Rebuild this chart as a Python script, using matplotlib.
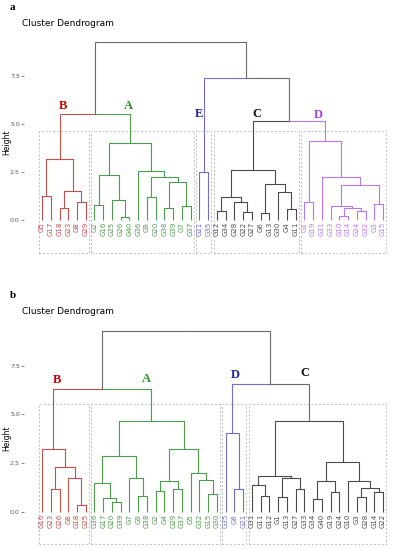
import matplotlib
matplotlib.use("Agg")
import matplotlib.pyplot as plt
from matplotlib.patches import Rectangle

# each node is (left, right, merge height); leaves are label strings

# panel a clusters
a_B = (("G5", "G17", 1.24), (("G18", "G23", 0.61), ("G8", "G29", 0.90), 1.47), 3.15)
a_A = ((("G2", "G16", 0.74), ("G25", ("G26", "G40", 0.12), 1.00), 2.32),
       ("G36", (("G9", "G20", 1.17), (("G38", "G39", 0.58), ("G7", "G37", 0.72), 1.94), 2.23), 2.54),
       3.97)
a_E = ("G21", "G35", 2.49)
a_C = ((("G12", "G34", 0.43), ("G28", ("G22", "G27", 0.41), 0.93), 1.16),
       (("G6", "G13", 0.35), ("G30", ("G4", "G11", 0.56), 1.45), 1.83),
       2.58)
a_D = (("G1", "G19", 0.93),
       ("G31", (("G33", (("G10", "G14", 0.18), ("G24", "G32", 0.46), 0.58), 0.70),
                ("G3", "G15", 0.81), 1.80), 2.20),
       4.10)
a_merge_BA = 5.48
a_merge_CD = 5.13
a_merge_E = 7.37
a_merge_top = 9.27

# panel b clusters
b_B = ("G16", (("G23", "G26", 1.15), ("G8", ("G18", "G25", 0.33), 1.71), 2.28), 3.20)
b_A = ((("G36", ("G17", ("G20", "G39", 0.51), 0.69), 1.46), ("G7", ("G9", "G38", 0.81), 1.73), 2.86),
       ((("G2", "G4", 1.06), ("G29", "G37", 1.15), 1.56), ("G5", ("G32", ("G15", "G30", 0.89), 1.63), 1.97), 3.22),
       4.67)
b_D = ("G35", ("G6", "G21", 1.15), 4.03)
b_C = ((("G31", ("G11", "G12", 0.82), 1.39), (("G1", "G13", 0.77), ("G27", "G33", 1.15), 1.71), 1.85),
       ((("G34", "G40", 0.65), ("G19", "G24", 1.03), 1.58),
        ("G10", (("G3", "G28", 0.74), ("G14", "G22", 1.00), 1.22), 1.59), 2.57),
       4.66)
b_merge_BA = 6.32
b_merge_DC = 6.57
b_merge_top = 9.30

RED = "#C0504D"
GREEN = "#4E9A4E"
BLUE = "#6F6FC8"
DARK = "#4A4A4A"
VIOLET = "#B877EC"
TOPGRAY = "#6A6A6A"

LETTER_COL = {"B": "#C00000", "A": "#2E8B2E", "E": "#1F1F8F", "D2": "#1F1F8F",
              "C": "#111111", "D": "#9A40E0"}

FIG_W, FIG_H = 395, 550


def leaves(node):
    if isinstance(node, str):
        return [node]
    return leaves(node[0]) + leaves(node[1])


def draw(ax, node, pos, color):
    # returns (x, height) of node, draws its subtree
    if isinstance(node, str):
        return pos[node], 0.0
    xl, hl = draw(ax, node[0], pos, color)
    xr, hr = draw(ax, node[1], pos, color)
    h = node[2]
    ax.plot([xl, xl, xr, xr], [hl, h, h, hr], color=color, lw=0.8, solid_capstyle="butt")
    return (xl + xr) / 2, h


def join(ax, left, right, h, colors):
    # left/right are (x, h) tuples; colors for each half
    (xl, hl), (xr, hr) = left, right
    xm = (xl + xr) / 2
    ax.plot([xl, xl, xm], [hl, h, h], color=colors[0], lw=0.8)
    ax.plot([xm, xr, xr], [h, h, hr], color=colors[1], lw=0.8)
    return xm, h


def setup_axes(fig, top_px, bot_px, h_top, h_bot):
    ax = fig.add_axes([24 / FIG_W, 1 - bot_px / FIG_H, 369 / FIG_W, (bot_px - top_px) / FIG_H])
    ax.set_xlim(-1.06, 41.14)
    ax.set_ylim(h_bot, h_top)
    for s in ax.spines.values():
        s.set_visible(False)
    ax.set_xticks([])
    ax.set_yticks([0, 2.5, 5.0, 7.5])
    ax.set_yticklabels(["0.0", "2.5", "5.0", "7.5"])
    ax.tick_params(axis="y", length=2, width=0.5, color="#555555", labelsize=4.5,
                   labelcolor="#555555", pad=1)
    return ax


def cluster_block(ax, tree, pos, col, lab_col, rect_top, rect_bot):
    labs = leaves(tree)
    root = draw(ax, tree, pos, col)
    for lab in labs:
        ax.text(pos[lab], -0.12, lab, rotation=90, ha="center", va="top",
                fontsize=5, color=lab_col)
    x0 = pos[labs[0]] - 0.38
    x1 = pos[labs[-1]] + 0.38
    ax.add_patch(Rectangle((x0, rect_bot), x1 - x0, rect_top - rect_bot, fill=False,
                           edgecolor="#BDBDBD", lw=0.7, linestyle=(0, (2, 2))))
    return root


def letter(ax, x, y, s, c):
    ax.text(x, y, s, fontsize=9, fontweight="bold", family="Liberation Serif",
            color=c, ha="center", va="bottom")


fig = plt.figure(figsize=(FIG_W / 100, FIG_H / 100), dpi=100)

# ---- panel a ----
ax = setup_axes(fig, 30, 262, 9.87, -2.21)
order = leaves(a_B) + leaves(a_A) + leaves(a_E) + leaves(a_C) + leaves(a_D)
pos = {lab: i + 1 for i, lab in enumerate(order)}
rB = cluster_block(ax, a_B, pos, RED, RED, 4.6, -1.76)
rA = cluster_block(ax, a_A, pos, GREEN, GREEN, 4.6, -1.76)
rE = cluster_block(ax, a_E, pos, BLUE, BLUE, 4.6, -1.76)
rC = cluster_block(ax, a_C, pos, DARK, DARK, 4.6, -1.76)
rD = cluster_block(ax, a_D, pos, VIOLET, VIOLET, 4.6, -1.76)
nBA = join(ax, rB, rA, a_merge_BA, (RED, GREEN))
nCD = join(ax, rC, rD, a_merge_CD, (DARK, VIOLET))
nE = join(ax, rE, nCD, a_merge_E, (BLUE, TOPGRAY))
join(ax, nBA, nE, a_merge_top, (TOPGRAY, TOPGRAY))
letter(ax, 3.4, 5.62, "B", LETTER_COL["B"])
letter(ax, 10.9, 5.62, "A", LETTER_COL["A"])
letter(ax, 19.0, 5.2, "E", LETTER_COL["E"])
letter(ax, 25.6, 5.17, "C", LETTER_COL["C"])
letter(ax, 32.6, 5.12, "D", LETTER_COL["D"])

fig.text(7 / FIG_W, 1 - 142 / FIG_H, "Height", fontsize=5.5, rotation=90,
         ha="center", va="center")
fig.text(10 / FIG_W, 1 - 8 / FIG_H, "a", fontsize=8, fontweight="bold",
         family="Liberation Serif", va="center")
fig.text(22 / FIG_W, 1 - 23 / FIG_H, "Cluster Dendrogram", fontsize=6.5, va="center")

# ---- panel b ----
ax = setup_axes(fig, 318, 548, 9.95, -1.86)
order = leaves(b_B) + leaves(b_A) + leaves(b_D) + leaves(b_C)
pos = {lab: i + 1 for i, lab in enumerate(order)}
rB = cluster_block(ax, b_B, pos, RED, RED, 5.52, -1.65)
rA = cluster_block(ax, b_A, pos, GREEN, GREEN, 5.52, -1.65)
rD = cluster_block(ax, b_D, pos, BLUE, BLUE, 5.52, -1.65)
rC = cluster_block(ax, b_C, pos, DARK, DARK, 5.52, -1.65)
nBA = join(ax, rB, rA, b_merge_BA, (RED, GREEN))
nDC = join(ax, rD, rC, b_merge_DC, (BLUE, TOPGRAY))
join(ax, nBA, nDC, b_merge_top, (TOPGRAY, TOPGRAY))
letter(ax, 2.7, 6.45, "B", LETTER_COL["B"])
letter(ax, 12.9, 6.5, "A", LETTER_COL["A"])
letter(ax, 23.1, 6.7, "D", LETTER_COL["D2"])
letter(ax, 31.1, 6.82, "C", LETTER_COL["C"])

fig.text(7 / FIG_W, 1 - 438 / FIG_H, "Height", fontsize=5.5, rotation=90,
         ha="center", va="center")
fig.text(10 / FIG_W, 1 - 295 / FIG_H, "b", fontsize=8, fontweight="bold",
         family="Liberation Serif", va="center")
fig.text(22 / FIG_W, 1 - 311 / FIG_H, "Cluster Dendrogram", fontsize=6.5, va="center")

fig.savefig("out.png", dpi=100)
